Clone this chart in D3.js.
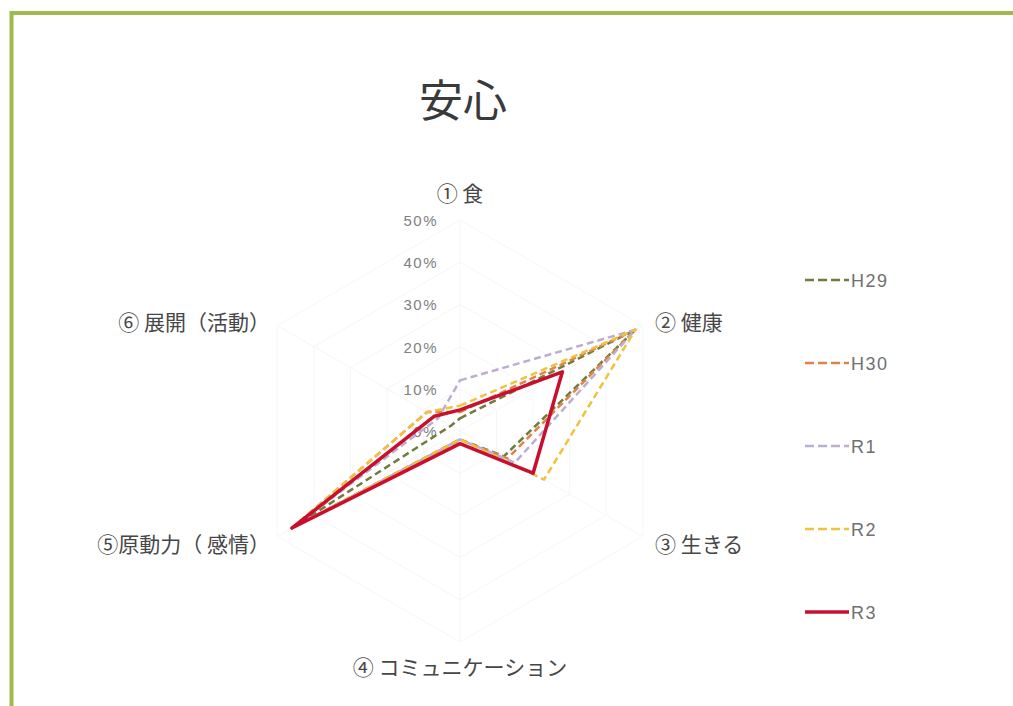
<!DOCTYPE html>
<html>
<head>
<meta charset="utf-8">
<script src="https://cdn.jsdelivr.net/npm/d3@7/dist/d3.min.js"></script>
<style>
  html, body { margin: 0; padding: 0; background: #fff; }
  svg { display: block; }
  text { font-family: "Noto Sans CJK JP", "Noto Sans", sans-serif; }
  .num { font-family: "Liberation Sans", "DejaVu Sans", sans-serif; }
</style>
</head>
<body>
<svg id="chart" width="1013" height="706"></svg>
<script>
// Axis categories (clockwise from the top)
const categories = ["① 食", "② 健康", "③ 生きる", "④ コミュニケーション", "⑤原動力（ 感情）", "⑥ 展開（活動）"];

// Share of responses per category, in percent
const seriesNames = ["H29", "H30", "R1", "R2", "R3"];
const valuesH29 = [3, 48, 12, 2, 46, 2.5];
const valuesH30 = [4.5, 48, 13, 2, 46, 9];
const valuesR1  = [12, 48, 15, 2, 46, 6];
const valuesR2  = [6, 48, 23, 2, 46, 9];
const valuesR3  = [5, 28, 20, 3, 46, 7];

// Radial tick labels
const tickValues = [0, 10, 20, 30, 40, 50];
const tickLabels = ["0%", "10%", "20%", "30%", "40%", "50%"];

const seriesValues = [valuesH29, valuesH30, valuesR1, valuesR2, valuesR3];
const seriesColors = ["#6f7d3c", "#e0824a", "#bcaed0", "#f0c23e", "#c8102e"];
const seriesDash   = ["7,4", "7,4", "7,4", "7,4", null];
const seriesWidth  = [2.5, 2.5, 2.5, 2.5, 3.5];

const svg = d3.select("#chart");

// Frame around the slide
svg.append("line").attr("x1", 10).attr("x2", 1013).attr("y1", 13).attr("y2", 13)
  .attr("stroke", "#9fba4a").attr("stroke-width", 4);
svg.append("line").attr("x1", 11.5).attr("x2", 11.5).attr("y1", 11).attr("y2", 706)
  .attr("stroke", "#9fba4a").attr("stroke-width", 4);

// Title
svg.append("text").attr("x", 463).attr("y", 117).attr("text-anchor", "middle")
  .attr("font-size", 44).attr("fill", "#3a3a3a").text("安心");

const cx = 460, cy = 431;
const r = d3.scaleLinear().domain([0, 50]).range([0, 211]);
const angle = d3.scaleLinear().domain([0, categories.length]).range([0, 2 * Math.PI]);

const g = svg.append("g").attr("transform", `translate(${cx},${cy})`);

// Grid hexagons and spokes (very faint)
const gridLine = d3.lineRadial().curve(d3.curveLinearClosed);
tickValues.slice(1).forEach(t => {
  g.append("path")
    .attr("d", gridLine(categories.map((c, i) => [angle(i), r(t)])))
    .attr("fill", "none").attr("stroke", "#f6f6f6").attr("stroke-width", 1);
});
categories.forEach((c, i) => {
  const a = angle(i);
  g.append("line")
    .attr("x1", 0).attr("y1", 0)
    .attr("x2", r(50) * Math.sin(a)).attr("y2", -r(50) * Math.cos(a))
    .attr("stroke", "#f6f6f6").attr("stroke-width", 1);
});

// Tick labels along the top axis
tickValues.forEach((t, i) => {
  g.append("text").attr("class", "num")
    .attr("x", -22).attr("y", -r(t) + 6)
    .attr("text-anchor", "end").attr("font-size", 15).attr("letter-spacing", 1.5)
    .attr("fill", "#808080")
    .text(tickLabels[i]);
});

// Category labels
categories.forEach((c, i) => {
  const a = angle(i);
  const s = Math.sin(a), co = Math.cos(a);
  let x, y, anchor;
  if (Math.abs(s) < 0.01) {
    x = 0; y = -co * 237; anchor = "middle";
  } else {
    x = s > 0 ? 195 : -190;
    y = -co * 220 + (co > 0 ? 2 : 4);
    anchor = s > 0 ? "start" : "end";
  }
  g.append("text")
    .attr("x", x).attr("y", y + 7)
    .attr("text-anchor", anchor).attr("font-size", 21).attr("fill", "#474747")
    .text(c);
});

// Series polygons
const radar = d3.lineRadial()
  .angle((d, i) => angle(i))
  .radius(d => r(d))
  .curve(d3.curveLinearClosed);

seriesValues.forEach((vals, k) => {
  g.append("path")
    .attr("d", radar(vals))
    .attr("fill", "none")
    .attr("stroke", seriesColors[k])
    .attr("stroke-width", seriesWidth[k])
    .attr("stroke-dasharray", seriesDash[k])
    .attr("stroke-linejoin", "round");
});

// Legend
const legendY = d3.scalePoint().domain(seriesNames).range([280, 612]);
seriesNames.forEach((name, k) => {
  const y = legendY(name);
  svg.append("line")
    .attr("x1", 805).attr("x2", 849).attr("y1", y).attr("y2", y)
    .attr("stroke", seriesColors[k])
    .attr("stroke-width", seriesWidth[k])
    .attr("stroke-dasharray", seriesDash[k] ? "9,4" : null);
  svg.append("text").attr("class", "num")
    .attr("x", 851).attr("y", y + 7)
    .attr("font-size", 18).attr("letter-spacing", 1.5).attr("fill", "#707070")
    .text(name);
});
</script>
</body>
</html>
